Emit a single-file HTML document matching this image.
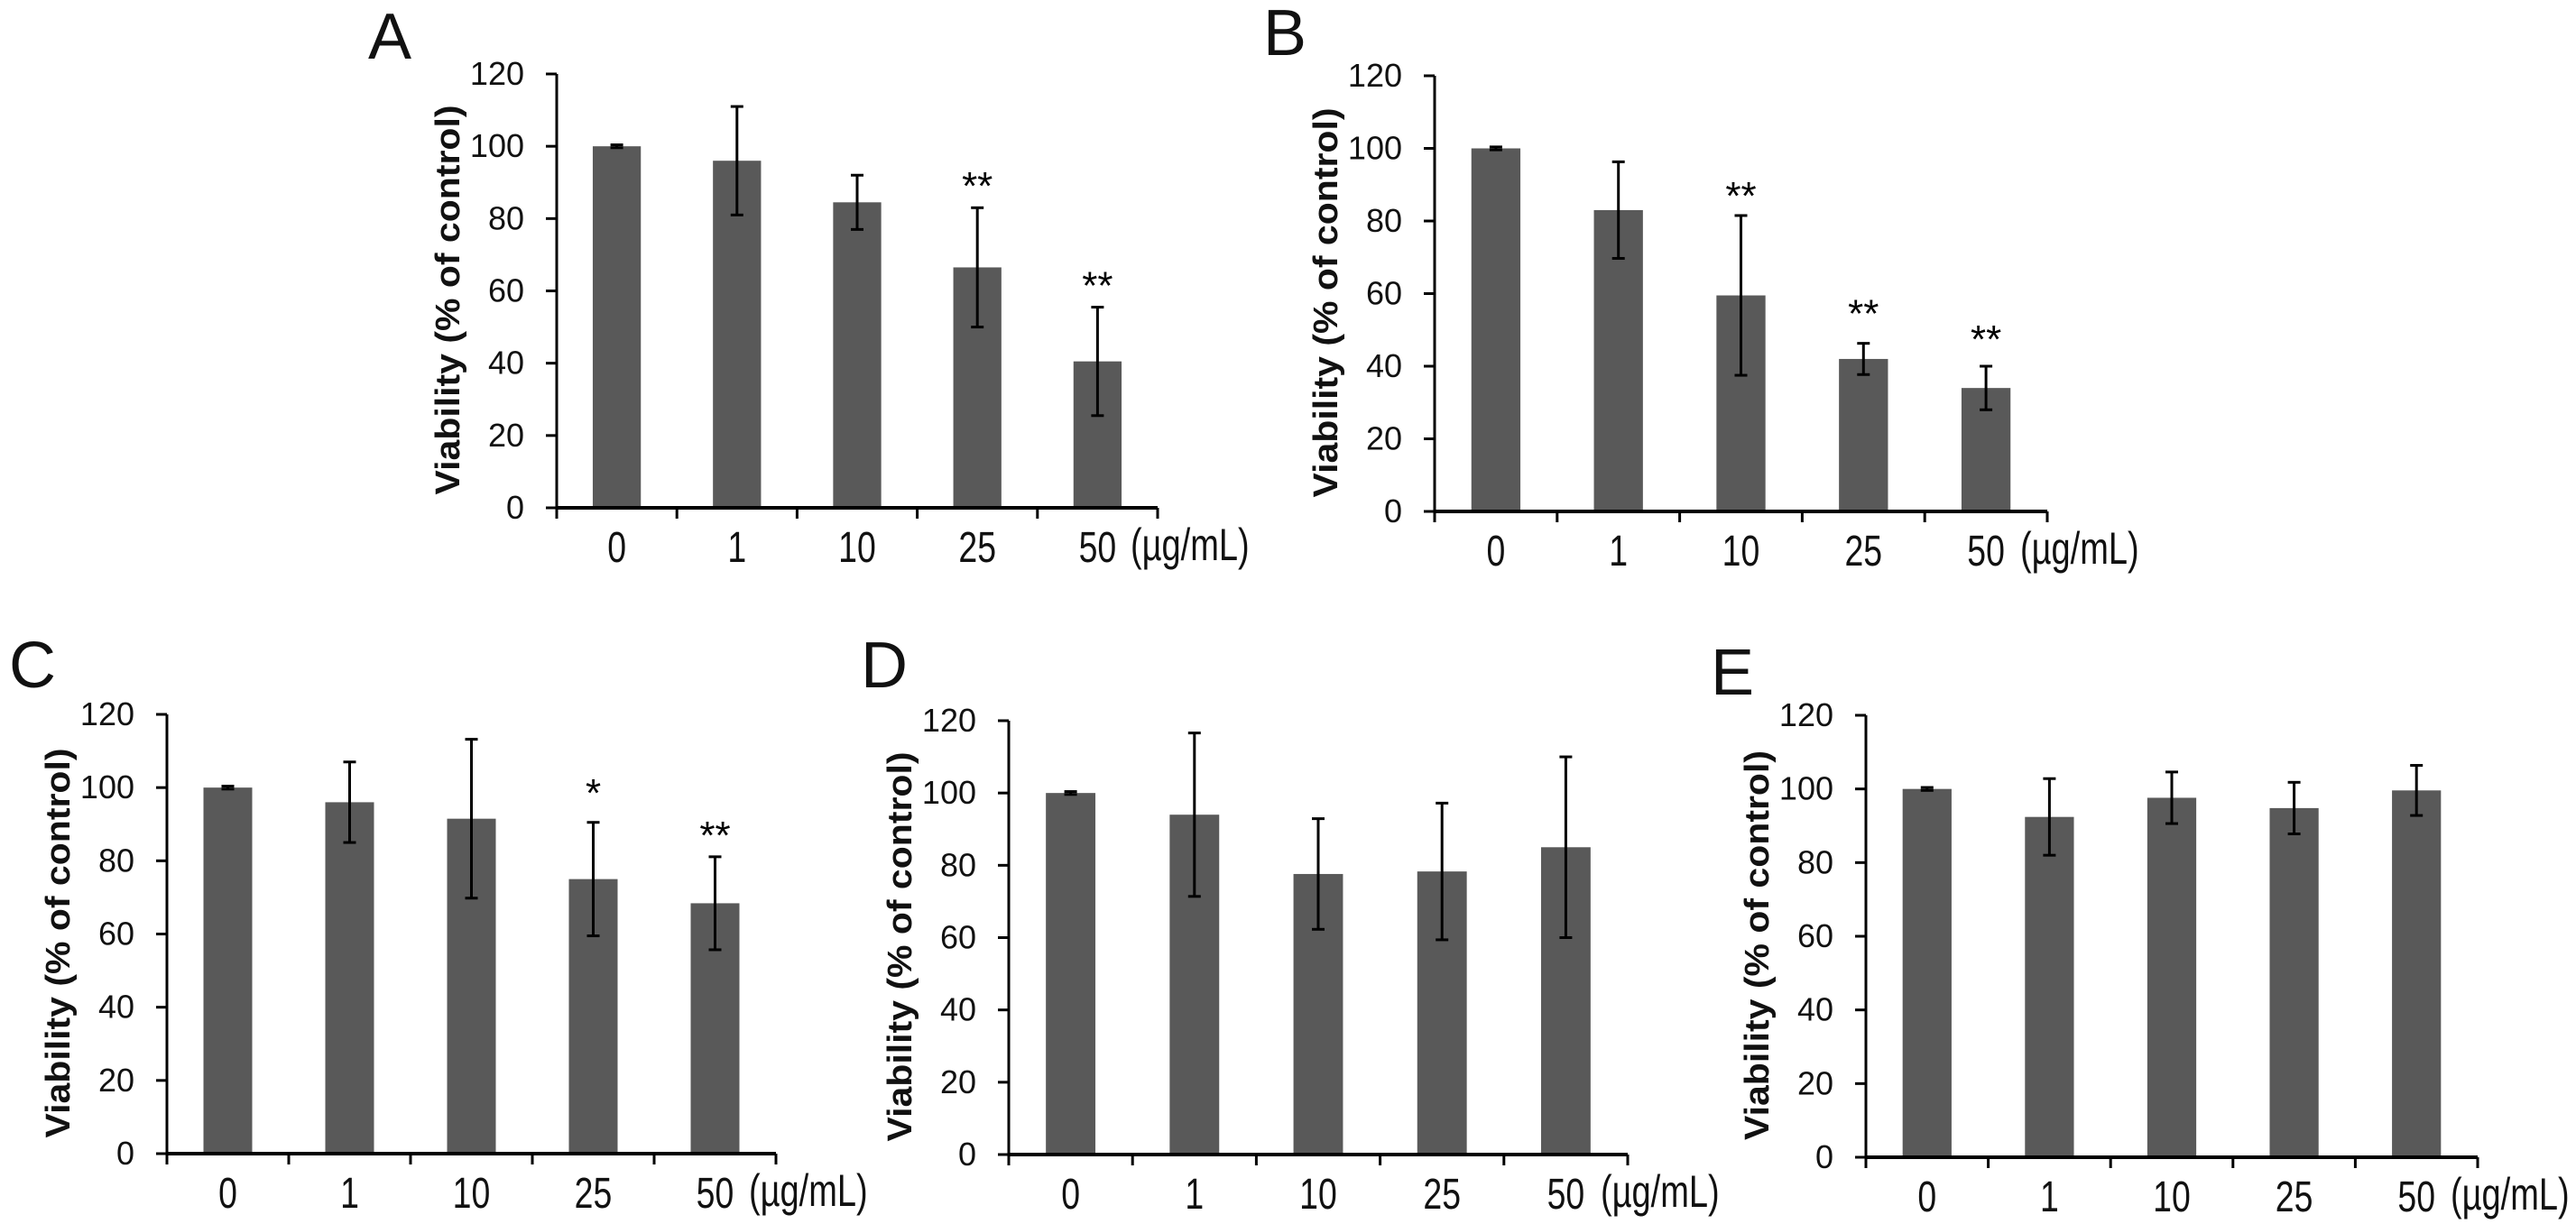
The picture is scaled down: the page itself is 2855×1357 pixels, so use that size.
<!DOCTYPE html>
<html><head><meta charset="utf-8">
<style>
html,body{margin:0;padding:0;background:#fff;}
svg{display:block;font-family:"Liberation Sans",Arial,sans-serif;}
</style></head>
<body>
<svg id="fig" width="2855" height="1357" viewBox="0 0 2855 1357" xmlns="http://www.w3.org/2000/svg"></svg>
<script>
const categories = ["0","1","10","25","50"];
const yTicks = [0,20,40,60,80,100,120];
const valuesA = [100, 96, 84.5, 66.5, 40.5];
const errorsA = [0.4, 15, 7.5, 16.5, 15];
const starsA = ["", "", "", "**", "**"];
const starYA = [0, 0, 0, 91.5, 64];
const valuesB = [100, 83, 59.5, 42, 34];
const errorsB = [0.4, 13.3, 22, 4.3, 6];
const starsB = ["", "", "**", "**", "**"];
const starYB = [0, 0, 89.5, 57, 50];
const valuesC = [100, 96, 91.5, 75, 68.4];
const errorsC = [0.4, 11, 21.7, 15.5, 12.7];
const starsC = ["", "", "", "*", "**"];
const starYC = [0, 0, 0, 101, 89.5];
const valuesD = [100, 94, 77.6, 78.3, 85];
const errorsD = [0.4, 22.6, 15.3, 18.9, 25];
const starsD = ["", "", "", "", ""];
const starYD = [0, 0, 0, 0, 0];
const valuesE = [100, 92.4, 97.6, 94.8, 99.6];
const errorsE = [0.4, 10.4, 7, 7, 6.8];
const starsE = ["", "", "", "", ""];
const starYE = [0, 0, 0, 0, 0];

const NS = "http://www.w3.org/2000/svg";
const svg = document.getElementById("fig");
function mk(tag, attrs, parent, text){
  const e = document.createElementNS(NS, tag);
  for (const k in attrs) e.setAttribute(k, attrs[k]);
  if (text !== undefined) e.textContent = text;
  parent.appendChild(e);
  return e;
}

const panels = [
  {id:"a", letter:"A", lx:408, ly:65, x0:617, x1:1283, y0:563, y1:82, v:valuesA, e:errorsA, s:starsA, sy:starYA},
  {id:"b", letter:"B", lx:1400, ly:61, x0:1590, x1:2269, y0:567, y1:84, v:valuesB, e:errorsB, s:starsB, sy:starYB},
  {id:"c", letter:"C", lx:10, ly:762, x0:185, x1:860, y0:1279, y1:792, v:valuesC, e:errorsC, s:starsC, sy:starYC},
  {id:"d", letter:"D", lx:954, ly:762, x0:1118, x1:1804, y0:1280, y1:799, v:valuesD, e:errorsD, s:starsD, sy:starYD},
  {id:"e", letter:"E", lx:1896, ly:770, x0:2068, x1:2746, y0:1283, y1:793, v:valuesE, e:errorsE, s:starsE, sy:starYE}
];

panels.forEach(p => {
  const g = mk("g", {}, svg);
  
  
  const yS = val => p.y0 - (val / 120) * (p.y0 - p.y1);
  const cw = (p.x1 - p.x0) / categories.length;
  const xC = i => p.x0 + cw * (i + 0.5);
  const bw = cw * 0.4;

  const L = mk("text", {x:p.lx, y:p.ly, "font-size":72, fill:"#111"}, g, p.letter);
  
  

  p.v.forEach((val, i) => {
    const r = mk("rect", {x:xC(i)-bw/2, y:yS(val), width:bw, height:p.y0-yS(val), fill:"#595959"}, g);
    
    
  });
  p.v.forEach((val, i) => {
    const hi = yS(val + p.e[i]), lo = yS(val - p.e[i]), cx = xC(i);
    const eg = mk("g", {stroke:"#000", "stroke-width":3}, g);
    
    
    mk("line", {x1:cx, x2:cx, y1:hi, y2:lo}, eg);
    mk("line", {x1:cx-7, x2:cx+7, y1:hi, y2:hi}, eg);
    mk("line", {x1:cx-7, x2:cx+7, y1:lo, y2:lo}, eg);
  });
  p.s.forEach((st, i) => {
    if (!st) return;
    const t = mk("text", {x:xC(i), y:yS(p.sy[i]) + 25, "font-size":44, "text-anchor":"middle", fill:"#000"}, g, st);
    
    
  });
  const ya = mk("g", {}, g);
  
  
  mk("line", {x1:p.x0, x2:p.x0, y1:p.y1, y2:p.y0, stroke:"#000", "stroke-width":3}, ya);
  yTicks.forEach(t => {
    mk("line", {x1:p.x0-12, x2:p.x0, y1:yS(t), y2:yS(t), stroke:"#000", "stroke-width":3}, ya);
    const tl = mk("text", {x:p.x0-36, y:yS(t)+12, "font-size":36, "text-anchor":"end", fill:"#111"}, ya, String(t));
    
    
  });
  const xa = mk("g", {}, g);
  
  
  mk("line", {x1:p.x0, x2:p.x1, y1:p.y0, y2:p.y0, stroke:"#000", "stroke-width":4}, xa);
  for (let i = 0; i <= categories.length; i++) {
    const x = p.x0 + cw * i;
    mk("line", {x1:x, x2:x, y1:p.y0, y2:p.y0+12, stroke:"#000", "stroke-width":3}, xa);
  }
  categories.forEach((c, i) => {
    const tl = mk("text", {x:0, y:0, "font-size":48, "text-anchor":"middle", fill:"#111",
      transform:"translate(" + xC(i) + "," + (p.y0+60) + ") scale(0.78,1)"}, xa, c);
    
    
  });
  const u = mk("text", {x:0, y:0, "font-size":50, fill:"#111",
    transform:"translate(" + (p.x1-30) + "," + (p.y0+58) + ") scale(0.76,1)"}, xa, "(\u00b5g/mL)");
  
  
  const cy = (p.y0 + p.y1) / 2 + 10, tx = p.x0 - 122;
  const yt = mk("text", {x:0, y:0, "font-size":38, "font-weight":"bold", "text-anchor":"middle",
    transform:"translate(" + (tx + 14) + "," + cy + ") rotate(-90)", textLength:432, lengthAdjust:"spacingAndGlyphs", fill:"#111"}, g, "Viability  (% of control)");
  
  
});
</script>
</body></html>
